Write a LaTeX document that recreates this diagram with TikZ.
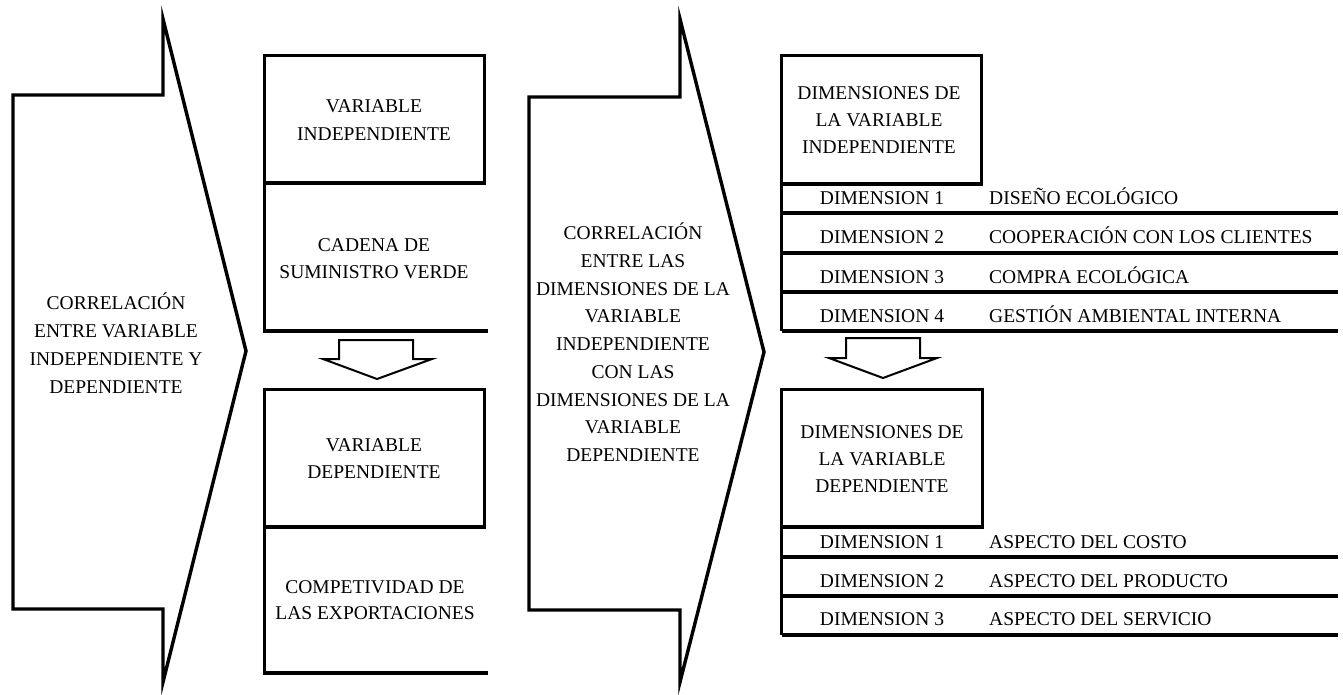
\documentclass[tikz,border=0pt]{standalone}
\usepackage{fontspec}
\setmainfont{Liberation Serif}
\newcommand\mlines[1]{\begin{tabular}[t]{@{}c@{}}#1\end{tabular}}
\tikzset{
  shp/.style={draw, line width=3.4pt, line join=miter},
  downarr/.style={draw, line width=2pt, line join=miter},
  txt/.style={font=\fontsize{19.5}{#1}\selectfont, inner sep=0pt, anchor=base},
  txt/.default=27.5,
  rowtxt/.style={font=\fontsize{19.5}{24}\selectfont, inner sep=0pt, anchor=base},
  rowlbl/.style={rowtxt, anchor=base west},
}
\begin{document}
\begin{tikzpicture}[x=1pt,y=-1pt]
\useasboundingbox (0,0) rectangle (1343,694);
% chevrons
\draw[shp] (13,95) -- (163,95) -- (163,19) -- (246,351) -- (163,682) -- (163,609) -- (13,609) -- cycle;
\draw[shp] (529,97) -- (680,97) -- (680,19) -- (764,352) -- (680,682) -- (680,610) -- (529,610) -- cycle;
% left column boxes
\draw[shp] (264.5,55.5) rectangle (484.5,183);
\draw[shp] (264.5,183) -- (264.5,331) -- (488,331);
\draw[shp] (264.5,389.5) rectangle (484.5,527);
\draw[shp] (264.5,527) -- (264.5,673) -- (488,673);
% down arrows
\draw[downarr] (339,340) -- (413,340) -- (413,359) -- (432,359) -- (377,379) -- (323,359) -- (339,359) -- cycle;
\draw[downarr] (846,338) -- (920,338) -- (920,358) -- (937,358) -- (883,378) -- (829,358) -- (846,358) -- cycle;
% right column boxes
\draw[shp] (781.5,55.5) rectangle (981.5,184);
\draw[shp] (781.5,184) -- (781.5,331);
\foreach \yy in {213,253,292,331} \draw[shp] (781.5,\yy) -- (1338,\yy);
\draw[shp] (781.5,389.5) rectangle (982.5,527);
\draw[shp] (781.5,527) -- (781.5,635);
\foreach \yy in {557,596,635} \draw[shp] (781.5,\yy) -- (1338,\yy);
% texts
\node[txt=28] (c1) at (116,309.6) {\mlines{CORRELACIÓN\\ENTRE VARIABLE\\INDEPENDIENTE Y\\DEPENDIENTE}};
\node[txt=27.75] (c2) at (633,239.6) {\mlines{CORRELACIÓN\\ENTRE LAS\\DIMENSIONES DE LA\\VARIABLE\\INDEPENDIENTE\\CON LAS\\DIMENSIONES DE LA\\VARIABLE\\DEPENDIENTE}};
\node[txt=28] (vi) at (374,112.6) {\mlines{VARIABLE\\INDEPENDIENTE}};
\node[txt=27] (csv) at (374,251.6) {\mlines{CADENA DE\\SUMINISTRO VERDE}};
\node[txt=27] (vd) at (374,451.6) {\mlines{VARIABLE\\DEPENDIENTE}};
\node[txt=26] (ce) at (375,593.6) {\mlines{COMPETIVIDAD DE\\LAS EXPORTACIONES}};
\node[txt=27] (dvi) at (879,99.6) {\mlines{DIMENSIONES DE\\LA VARIABLE\\INDEPENDIENTE}};
\node[txt=27] (dvd) at (882,438.6) {\mlines{DIMENSIONES DE\\LA VARIABLE\\DEPENDIENTE}};
% rows upper
\node[rowtxt] (u1) at (882,204.6) {DIMENSION 1};
\node[rowtxt] (u2) at (882,243.6) {DIMENSION 2};
\node[rowtxt] (u3) at (882,283.6) {DIMENSION 3};
\node[rowtxt] (u4) at (882,322.6) {DIMENSION 4};
\node[rowlbl] (ul1) at (989,204.6) {DISEÑO ECOLÓGICO};
\node[rowlbl] (ul2) at (989,243.6) {COOPERACIÓN CON LOS CLIENTES};
\node[rowlbl] (ul3) at (989,283.6) {COMPRA ECOLÓGICA};
\node[rowlbl] (ul4) at (989,322.6) {GESTIÓN AMBIENTAL INTERNA};
% rows lower
\node[rowtxt] (l1) at (882,548.6) {DIMENSION 1};
\node[rowtxt] (l2) at (882,587.6) {DIMENSION 2};
\node[rowtxt] (l3) at (882,625.6) {DIMENSION 3};
\node[rowlbl] (ll1) at (989,548.6) {ASPECTO DEL COSTO};
\node[rowlbl] (ll2) at (989,587.6) {ASPECTO DEL PRODUCTO};
\node[rowlbl] (ll3) at (989,625.6) {ASPECTO DEL SERVICIO};
\end{tikzpicture}
\end{document}
